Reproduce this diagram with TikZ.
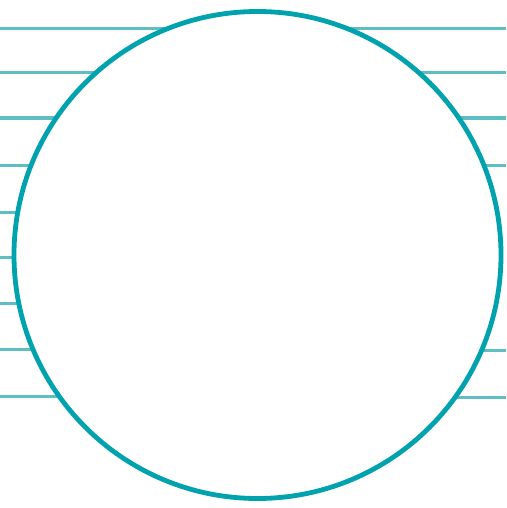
\documentclass[tikz,border=0pt]{standalone}
\definecolor{ringc}{RGB}{0,163,173}
\definecolor{linec}{RGB}{95,190,196}
\tikzset{
  ring/.style={draw=ringc, line width=4.8pt, fill=white},
  rule/.style={draw=linec, line width=3pt}
}
\begin{document}
\begin{tikzpicture}[x=1pt,y=-1pt]
\useasboundingbox[fill=white] (0,0) rectangle (506,508);
\coordinate (c) at (257.5,255);
\foreach \yy in {29,73,118,165,212,257,303,349,396}
  \draw[rule] (0,\yy) -- (257.5,\yy);
\foreach \yy in {29,73,118,165,350,397}
  \draw[rule] (257.5,\yy) -- (506,\yy);
\draw[ring] (c) circle[radius=243.5];
\end{tikzpicture}
\end{document}
